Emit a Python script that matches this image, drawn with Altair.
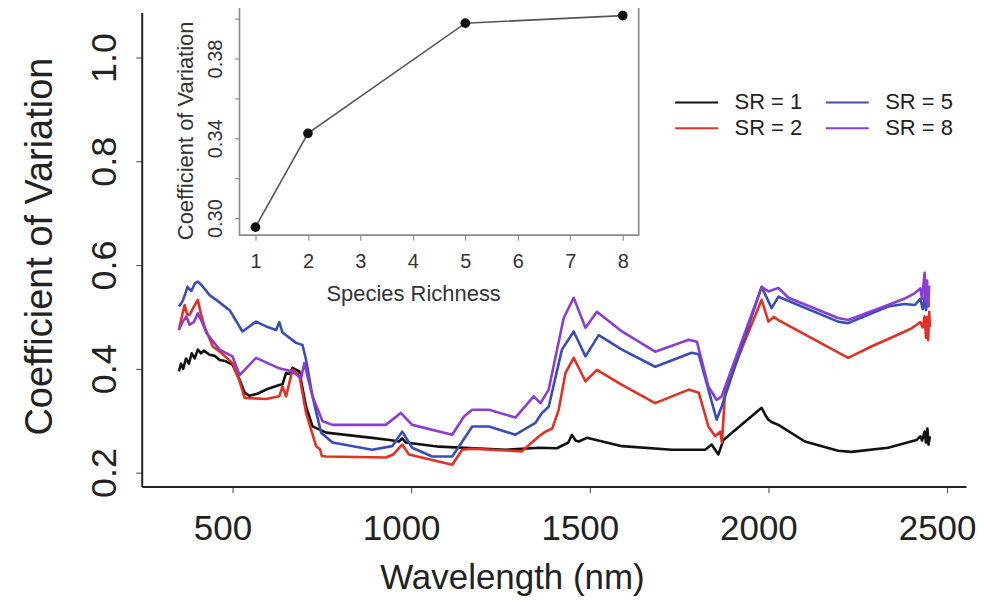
import altair as alt
import pandas as pd

# ---------------- data ----------------
wl_sr1 = [350, 356, 362, 370, 378, 386, 394, 403, 412, 420, 436, 450, 464, 480, 500, 520, 534, 547, 570, 594,
          631, 640, 650, 660, 668, 687, 706, 724, 762, 891, 940, 966, 975, 985, 1078, 1265, 1358, 1408, 1440, 1450,
          1460, 1469, 1492, 1590, 1730, 1823, 1841, 1850, 1860, 1874, 1981, 1992, 2000, 2010, 2028, 2102, 2195, 2232,
          2335, 2399, 2415, 2425, 2430, 2437, 2441, 2445, 2448, 2452]
cv_sr1 = [0.395, 0.41, 0.40, 0.42, 0.41, 0.43, 0.42, 0.437, 0.43, 0.435, 0.427, 0.425, 0.417, 0.415, 0.408, 0.379,
          0.354, 0.348, 0.352, 0.36, 0.369, 0.37, 0.392, 0.39, 0.402, 0.395, 0.327, 0.289, 0.277, 0.267, 0.263, 0.26,
          0.266, 0.258, 0.25, 0.244, 0.248, 0.247, 0.258, 0.273, 0.262, 0.26, 0.267, 0.251, 0.244, 0.244, 0.254, 0.245,
          0.235, 0.263, 0.325, 0.31, 0.302, 0.297, 0.292, 0.26, 0.242, 0.24, 0.248, 0.26, 0.263, 0.27, 0.262, 0.279,
          0.258, 0.285, 0.254, 0.27]

wl_sr2 = [350, 358, 366, 373, 380, 392, 403, 412, 422, 445, 470, 500, 520, 534, 594, 631, 640, 650, 668, 687, 706,
          734, 745, 750, 762, 929, 950, 975, 994, 1115, 1143, 1171, 1310, 1358, 1376, 1395, 1413, 1432, 1455, 1488,
          1520, 1590, 1683, 1777, 1805, 1832, 1851, 1865, 1870, 1879, 1981, 2000, 2015, 2028, 2223, 2288, 2382, 2400,
          2415, 2425, 2432, 2437, 2441, 2444, 2447, 2450, 2452]
cv_sr2 = [0.475, 0.50, 0.523, 0.505, 0.504, 0.52, 0.533, 0.505, 0.481, 0.443, 0.43, 0.411, 0.376, 0.344, 0.342,
          0.347, 0.366, 0.347, 0.398, 0.388, 0.315, 0.251, 0.245, 0.232, 0.231, 0.229, 0.235, 0.254, 0.235, 0.215,
          0.244, 0.246, 0.241, 0.27, 0.279, 0.285, 0.321, 0.392, 0.421, 0.376, 0.398, 0.369, 0.334, 0.36, 0.354,
          0.289, 0.27, 0.279, 0.258, 0.36, 0.533, 0.491, 0.50, 0.494, 0.421, 0.443, 0.472, 0.478, 0.485, 0.49, 0.48,
          0.501, 0.46, 0.50, 0.455, 0.51, 0.48]

wl_sr5 = [350, 360, 368, 374, 385, 395, 403, 415, 436, 460, 492, 528, 566, 600, 622, 631, 640, 678, 696, 706, 724,
          748, 780, 891, 947, 975, 1003, 1059, 1115, 1153, 1171, 1218, 1292, 1348, 1366, 1385, 1422, 1455, 1488, 1525,
          1590, 1683, 1785, 1805, 1832, 1855, 1869, 1981, 2009, 2028, 2195, 2223, 2335, 2380, 2410, 2425, 2432, 2438,
          2441, 2445, 2449]
cv_sr5 = [0.52, 0.53, 0.545, 0.558, 0.55, 0.565, 0.568, 0.56, 0.542, 0.53, 0.513, 0.472, 0.491, 0.48, 0.475, 0.49,
          0.47, 0.45, 0.446, 0.417, 0.347, 0.277, 0.258, 0.244, 0.251, 0.279, 0.248, 0.231, 0.231, 0.27, 0.289, 0.289,
          0.273, 0.296, 0.315, 0.327, 0.437, 0.472, 0.424, 0.465, 0.437, 0.404, 0.431, 0.428, 0.36, 0.302, 0.327,
          0.558, 0.517, 0.539, 0.491, 0.488, 0.52, 0.525, 0.523, 0.535, 0.515, 0.54, 0.513, 0.545, 0.52]

wl_sr8 = [350, 360, 371, 380, 392, 403, 415, 427, 464, 500, 520, 566, 631, 668, 692, 701, 724, 752, 780, 929, 971,
          1003, 1115, 1148, 1171, 1218, 1292, 1343, 1362, 1385, 1427, 1455, 1488, 1520, 1590, 1683, 1777, 1800, 1832,
          1855, 1869, 1981, 2000, 2028, 2056, 2195, 2223, 2335, 2380, 2410, 2425, 2430, 2437, 2440, 2444, 2447, 2450]
cv_sr8 = [0.475, 0.49, 0.501, 0.485, 0.49, 0.507, 0.49, 0.469, 0.437, 0.424, 0.388, 0.421, 0.401, 0.395, 0.382,
          0.411, 0.347, 0.299, 0.292, 0.292, 0.315, 0.292, 0.273, 0.308, 0.321, 0.321, 0.306, 0.347, 0.334, 0.36,
          0.498, 0.537, 0.479, 0.51, 0.472, 0.433, 0.456, 0.452, 0.366, 0.34, 0.347, 0.558, 0.549, 0.556, 0.537,
          0.498, 0.494, 0.523, 0.535, 0.546, 0.555, 0.535, 0.585, 0.53, 0.57, 0.52, 0.56]

series_names = ["SR = 1", "SR = 2", "SR = 5", "SR = 8"]
series_colors = ["#111111", "#e33025", "#3a4db5", "#8a3cd3"]

inset_sr = [1, 2, 5, 8]
inset_cv = [0.2955, 0.3425, 0.3977, 0.4015]

x_ticks = [500, 1000, 1500, 2000, 2500]
y_ticks = [0.2, 0.4, 0.6, 0.8, 1.0]
inset_x_ticks = [1, 2, 3, 4, 5, 6, 7, 8]
inset_y_ticks = [0.30, 0.32, 0.34, 0.36, 0.38, 0.40]
inset_y_labels = ["0.30", "0.34", "0.38"]

main_x_domain = [246, 2553]
main_y_domain = [0.173, 1.0865]
inset_x_domain = [0.696, 8.304]
inset_y_domain = [0.2915, 0.406]

# ---------------- tables ----------------
rows = []
for name, wl, cv in zip(series_names, [wl_sr1, wl_sr2, wl_sr5, wl_sr8], [cv_sr1, cv_sr2, cv_sr5, cv_sr8]):
    for i, (w, c) in enumerate(zip(wl, cv)):
        rows.append({"series": name, "wl": w, "cv": c, "order": i})
df = pd.DataFrame(rows)

inset_df = pd.DataFrame({"sr": inset_sr, "cv": inset_cv})
box_df = pd.DataFrame({"sr": [inset_x_domain[0]], "sr2": [inset_x_domain[1]],
                       "cv": [inset_y_domain[0]], "cv2": [inset_y_domain[1]]})

FONT = "Liberation Sans"
W, H = 826, 475

main = alt.Chart(df).mark_line(strokeWidth=2.6, strokeJoin="round").encode(
    x=alt.X("wl:Q", scale=alt.Scale(domain=main_x_domain, nice=False, zero=False),
            axis=alt.Axis(values=x_ticks, title="Wavelength (nm)", format="d", orient="bottom",
                          labelFontSize=35, titleFontSize=35, labelPadding=19, titlePadding=14,
                          labelOffset=-10, titleX=371, titleAnchor="middle")),
    y=alt.Y("cv:Q", scale=alt.Scale(domain=main_y_domain, nice=False, zero=False),
            axis=alt.Axis(values=y_ticks, title="Coefficient of Variation", format=".1f", orient="left",
                          labelFontSize=36, titleFontSize=38, labelAngle=270, labelAlign="center",
                          labelBaseline="bottom", labelPadding=12, titlePadding=27, titleY=234)),
    color=alt.Color("series:N", scale=alt.Scale(domain=series_names, range=series_colors),
                    legend=alt.Legend(title=None, orient="none", legendX=533, legendY=79, columns=2,
                                      symbolType="stroke", symbolSize=1850, symbolStrokeWidth=2,
                                      clipHeight=22,
                                      labelFontSize=22, labelFont=FONT, labelColor="#222",
                                      labelOffset=15, columnPadding=22, rowPadding=4, padding=0)),
    detail="series:N",
    order="order:Q",
)

ix = alt.X("sr:Q", scale=alt.Scale(domain=inset_x_domain, range=[98, 498], nice=False, zero=False),
           axis=alt.Axis(values=inset_x_ticks, orient="bottom", offset=-252, title="Species Richness",
                         domain=False, tickSize=5, tickColor="#777", labelFontSize=20, titleFontSize=22,
                         labelColor="#333", titleColor="#333", labelPadding=11, titlePadding=12,
                         titleX=272, titleAnchor="middle", grid=False))
iy = alt.Y("cv:Q", scale=alt.Scale(domain=inset_y_domain, range=[223, -6], nice=False, zero=False),
           axis=alt.Axis(values=inset_y_ticks, orient="left", offset=-98, title="Coefficient of Variation",
                         domain=False, tickSize=5, tickColor="#777", labelFontSize=20, titleFontSize=22,
                         labelColor="#333", titleColor="#333", labelAngle=270, labelAlign="center",
                         labelBaseline="bottom", labelPadding=9, titlePadding=8, titleY=118,
                         labelExpr="indexof(%s, format(datum.value, '.2f')) >= 0 ? format(datum.value, '.2f') : ''"
                                   % str(inset_y_labels).replace(" ", ""),
                         grid=False))

box = alt.Chart(box_df).mark_rect(fill="white", stroke="#8a8a8a", strokeWidth=1.6).encode(
    x=ix, x2="sr2:Q", y=iy, y2="cv2:Q")
iline = alt.Chart(inset_df).mark_line(color="#555555", strokeWidth=1.6).encode(x=ix, y=iy)
ipts = alt.Chart(inset_df).mark_circle(color="#111111", size=95, opacity=1).encode(x=ix, y=iy)

inset = alt.layer(box, iline, ipts)

chart = alt.layer(main, inset).resolve_scale(x="independent", y="independent").properties(
    width=W, height=H, autosize="none",
    padding={"left": 134, "top": 4, "right": 10, "bottom": 114},
).configure_view(stroke=None).configure_axis(
    labelFont=FONT, titleFont=FONT, titleFontWeight="normal", grid=False,
    domainColor="#222", domainWidth=2, tickColor="#444", tickSize=6, tickWidth=1,
    labelColor="#222", titleColor="#222",
)

chart.save("out.html", embed_options={"renderer": "svg", "actions": False})
